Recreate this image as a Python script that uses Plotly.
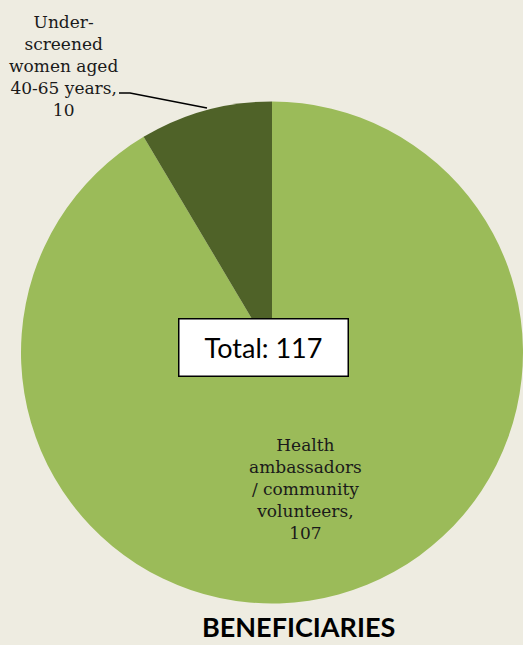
import plotly.graph_objects as go

labels = ["Health ambassadors / community volunteers", "Under-screened women aged 40-65 years"]
values = [107, 10]
colors = ["#9BBB59", "#4F6228"]
total = sum(values)

W, H = 523, 645

fig = go.Figure(go.Pie(
    labels=labels,
    values=values,
    marker=dict(colors=colors, line=dict(width=0)),
    sort=False,
    direction="clockwise",
    rotation=0,
    textinfo="none",
    hoverinfo="label+value",
    showlegend=False,
    domain=dict(x=[21 / W, 1.0], y=[1 - 605 / H, 1 - 100 / H]),
))

serif = "DejaVu Serif, Liberation Serif, serif"


def px_x(x):
    return x / W


def px_y(y):
    return 1 - y / H


# slice labels
fig.add_annotation(
    text="Under-<br>screened<br>women aged<br>40-65 years,<br>" + str(values[1]),
    x=px_x(63), y=px_y(66), xref="paper", yref="paper",
    xanchor="center", yanchor="middle",
    showarrow=False, align="center",
    font=dict(family=serif, size=17, color="#1a1a1a"),
)
fig.add_annotation(
    text="Health<br>ambassadors<br>/ community<br>volunteers,<br>" + str(values[0]),
    x=px_x(305), y=px_y(489), xref="paper", yref="paper",
    xanchor="center", yanchor="middle",
    showarrow=False, align="center",
    font=dict(family=serif, size=17, color="#1a1a1a"),
)

# leader line for the small slice
fig.add_shape(
    type="path", xref="paper", yref="paper",
    path="M {:.4f},{:.4f} L {:.4f},{:.4f} L {:.4f},{:.4f}".format(
        px_x(119), px_y(93), px_x(130), px_y(93), px_x(207), px_y(108)),
    line=dict(color="black", width=1.5),
)

# total box
fig.add_annotation(
    text="Total: " + str(total),
    x=px_x(263), y=px_y(347), xref="paper", yref="paper",
    xanchor="center", yanchor="middle",
    showarrow=False,
    font=dict(family="Lato, DejaVu Sans, sans-serif", size=27, color="black"),
    bgcolor="white", bordercolor="black", borderwidth=1.5,
    width=166, height=54,
)

fig.add_annotation(
    text="<b>BENEFICIARIES</b>",
    x=px_x(298), y=px_y(626), xref="paper", yref="paper",
    xanchor="center", yanchor="middle",
    showarrow=False,
    font=dict(family="Lato, Open Sans, sans-serif", size=27, color="black"),
)

fig.update_layout(
    width=W, height=H,
    margin=dict(l=0, r=0, t=0, b=0),
    paper_bgcolor="#EEECE1",
    plot_bgcolor="#EEECE1",
)

fig.write_html(
    "out.html",
    config={"displayModeBar": False},
    post_script="document.body.style.margin='0';document.body.style.overflow='hidden';",
)
